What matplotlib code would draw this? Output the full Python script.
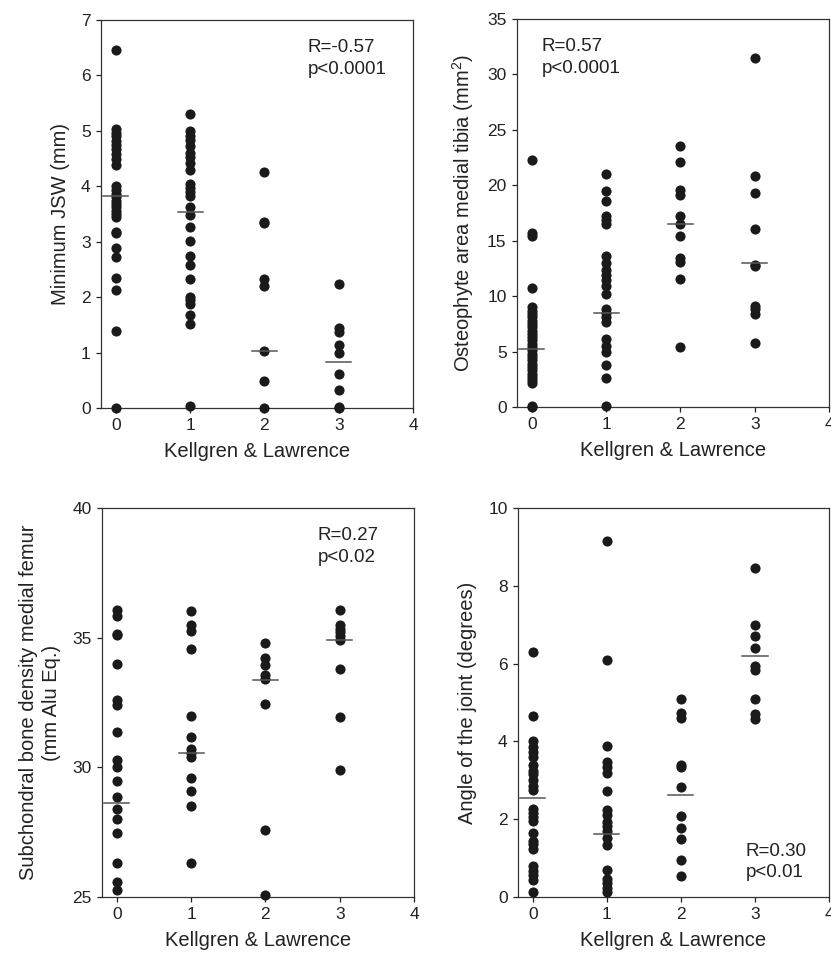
import numpy as np
import matplotlib
matplotlib.use("Agg")
import matplotlib.pyplot as plt

plt.rcParams['font.family'] = ['Liberation Sans', 'DejaVu Sans']
plt.rcParams['mathtext.fontset'] = 'custom'
plt.rcParams['mathtext.rm'] = 'Liberation Sans'

# Kellgren & Lawrence grade groups
grades = [0, 1, 2, 3]

# minimum joint space width (mm)
jsw_0 = [6.45, 5.03, 4.97, 4.9, 4.82, 4.75, 4.68, 4.58, 4.5, 4.38,
         4.0, 3.93, 3.86, 3.8, 3.74, 3.68, 3.62, 3.56, 3.5, 3.44,
         3.18, 3.15, 2.89, 2.73, 2.35, 2.13, 1.39, 0.0]
jsw_1 = [5.3, 5.0, 4.9, 4.84, 4.72, 4.6, 4.52, 4.42, 4.3, 4.05, 3.97,
         3.9, 3.82, 3.63, 3.48, 3.26, 3.02, 2.75, 2.58, 2.33, 2.0, 1.95,
         1.88, 1.67, 1.51, 0.03]
jsw_2 = [4.26, 3.36, 3.33, 2.33, 2.2, 1.02, 0.49, 0.0]
jsw_3 = [2.24, 1.45, 1.38, 1.14, 1.0, 0.61, 0.33, 0.02, 0.0]
jsw_med = [3.82, 3.53, 1.02, 0.83]

# osteophyte area medial tibia (mm2)
ost_0 = [22.24, 15.68, 15.43, 10.72, 9.0, 8.7, 8.4, 8.1, 7.8, 7.5, 7.2,
         6.9, 6.6, 6.3, 6.0, 5.7, 5.4, 5.1, 4.8, 4.5, 4.2, 3.9, 3.6, 3.3,
         3.0, 2.7, 2.4, 2.2, 0.1, 0.0]
ost_1 = [20.99, 19.52, 18.57, 17.2, 16.9, 16.5, 13.6, 12.97, 12.4, 11.9,
         11.5, 10.9, 10.2, 8.8, 8.5, 8.1, 7.7, 6.1, 5.5, 5.0, 3.75, 2.6,
         0.05]
ost_2 = [23.5, 22.06, 19.55, 19.16, 17.2, 16.5, 15.4, 13.4, 13.1, 11.56,
         5.37]
ost_3 = [31.47, 20.8, 19.3, 16.1, 12.8, 12.7, 9.1, 8.8, 8.4, 5.77]
ost_med = [5.2, 8.5, 16.49, 13.03]

# subchondral bone density medial femur (mm Alu Eq.)
bmd_0 = [36.07, 35.85, 35.15, 35.1, 33.97, 32.6, 32.4, 31.35, 30.28, 30.0,
         29.47, 28.84, 28.41, 28.0, 27.45, 26.33, 25.58, 25.28]
bmd_1 = [36.04, 35.5, 35.25, 34.58, 31.98, 31.16, 30.7, 30.57, 30.41,
         29.6, 29.1, 28.52, 26.33]
bmd_2 = [34.8, 34.23, 33.95, 33.57, 33.4, 32.45, 27.58, 25.09]
bmd_3 = [36.07, 35.5, 35.35, 35.2, 35.05, 34.9, 33.78, 31.96, 29.9]
bmd_med = [28.63, 30.57, 33.38, 34.9]

# angle of the joint (degrees)
ang_0 = [6.29, 4.66, 4.0, 3.85, 3.72, 3.6, 3.4, 3.25, 3.15, 3.0, 2.85,
         2.75, 2.25, 2.15, 2.05, 1.95, 1.64, 1.43, 1.35, 1.23, 0.79, 0.67,
         0.56, 0.43, 0.13]
ang_1 = [9.16, 6.1, 3.87, 3.47, 3.33, 3.19, 2.72, 2.23, 2.12, 1.94, 1.82,
         1.69, 1.52, 1.34, 0.69, 0.46, 0.36, 0.23, 0.13]
ang_2 = [5.08, 4.73, 4.6, 3.4, 3.33, 2.83, 2.07, 1.77, 1.5, 0.96, 0.53]
ang_3 = [8.46, 6.98, 6.7, 6.4, 5.93, 5.83, 5.08, 4.71, 4.57]
ang_med = [2.54, 1.63, 2.63, 6.19]

panels = [
    dict(groups=[jsw_0, jsw_1, jsw_2, jsw_3], med=jsw_med,
         ylabel='Minimum JSW (mm)', ylim=(0, 7), yticks=np.arange(0, 8, 1),
         note='R=-0.57\np<0.0001', note_xy=(0.663, 0.95), note_va='top'),
    dict(groups=[ost_0, ost_1, ost_2, ost_3], med=ost_med,
         ylabel=r'Osteophyte area medial tibia (mm$^2$)', ylim=(0, 35),
         yticks=np.arange(0, 36, 5),
         note='R=0.57\np<0.0001', note_xy=(0.08, 0.95), note_va='top'),
    dict(groups=[bmd_0, bmd_1, bmd_2, bmd_3], med=bmd_med,
         ylabel='Subchondral bone density medial femur\n(mm Alu Eq.)',
         ylim=(25, 40), yticks=np.arange(25, 41, 5),
         note='R=0.27\np<0.02', note_xy=(0.692, 0.95), note_va='top'),
    dict(groups=[ang_0, ang_1, ang_2, ang_3], med=ang_med,
         ylabel='Angle of the joint (degrees)', ylim=(0, 10),
         yticks=np.arange(0, 11, 2),
         note='R=0.30\np<0.01', note_xy=(0.733, 0.04), note_va='bottom'),
]

W, H = 831, 958
fig = plt.figure(figsize=(W / 100, H / 100), dpi=100)
boxes = [(101, 20, 413, 408), (517, 19, 829, 407),
         (102, 508, 414, 897), (518, 508, 829, 897)]

for p, (x0, y0, x1, y1) in zip(panels, boxes):
    ax = fig.add_axes([x0 / W, 1 - y1 / H, (x1 - x0) / W, (y1 - y0) / H])
    for g, vals in zip(grades, p['groups']):
        ax.plot(np.full(len(vals), g), vals, 'o', color='#1a1a1a', ms=7.3,
                mec='none', clip_on=False, zorder=3)
    for g, m in zip(grades, p['med']):
        ax.plot([g - 0.17, g + 0.17], [m, m], color='#555555', lw=1.1,
                zorder=4)
    ax.set_xlim(-0.2, 4)
    ax.set_ylim(*p['ylim'])
    ax.set_xticks(range(5))
    ax.set_yticks(p['yticks'])
    ax.tick_params(direction='out', length=3.5, width=0.9, labelsize=12.5,
                   colors='#222222', pad=4)
    for s in ax.spines.values():
        s.set_linewidth(0.9)
        s.set_color('#333333')
    ax.set_xlabel('Kellgren & Lawrence', fontsize=14.5, color='#222222',
                  labelpad=6)
    ax.set_ylabel(p['ylabel'], fontsize=14.5, color='#222222', labelpad=8,
                  linespacing=1.3)
    ax.text(p['note_xy'][0], p['note_xy'][1], p['note'],
            transform=ax.transAxes, fontsize=13.5, va=p['note_va'],
            ha='left', linespacing=1.35, color='#222222')

fig.savefig('out.png', dpi=100)
